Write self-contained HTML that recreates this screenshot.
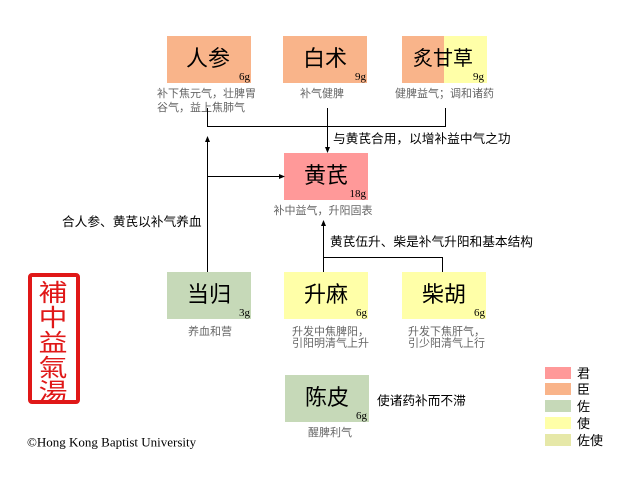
<!DOCTYPE html>
<html><head><meta charset="utf-8"><style>
html,body{margin:0;padding:0;background:#fff;}
svg{display:block;}
.cn{font-family:"Liberation Sans","Noto Sans CJK SC",sans-serif;}
.big{font-size:22px;fill:#000;}
.g{font-family:"Liberation Serif",serif;font-size:11px;fill:#000;}
.d{font-size:11px;fill:#666;}
.l{font-size:12.7px;fill:#000;}
</style></head><body>
<svg width="640" height="480" viewBox="0 0 640 480" xmlns="http://www.w3.org/2000/svg">
<!-- boxes -->
<rect x="167" y="36" width="84" height="47" fill="#F9B48A"/>
<rect x="283" y="36" width="84" height="47" fill="#F9B48A"/>
<rect x="402" y="36" width="42" height="47" fill="#F9B48A"/>
<rect x="444" y="36" width="43" height="47" fill="#FFFFA8"/>
<rect x="284" y="153" width="84" height="47" fill="#FF9999"/>
<rect x="167" y="272" width="84" height="47" fill="#C6D9B8"/>
<rect x="284" y="272" width="84" height="47" fill="#FFFFA8"/>
<rect x="402" y="272" width="84" height="47" fill="#FFFFA8"/>
<rect x="285" y="375" width="84" height="47" fill="#C6D9B8"/>

<g class="cn big" text-anchor="middle">
<text x="208" y="66">人参</text>
<text x="325" y="66">白术</text>
<text x="443" y="65" font-size="20">炙甘草</text>
<text x="326" y="183">黄芪</text>
<text x="209" y="302">当归</text>
<text x="326" y="302">升麻</text>
<text x="444" y="302">柴胡</text>
<text x="327" y="405">陈皮</text>
</g>
<g class="g" text-anchor="end">
<text x="250" y="80">6g</text>
<text x="366" y="80">9g</text>
<text x="484" y="80">9g</text>
<text x="366" y="197">18g</text>
<text x="250" y="316">3g</text>
<text x="367" y="316">6g</text>
<text x="485" y="316">6g</text>
<text x="367" y="419">6g</text>
</g>

<!-- descriptions -->
<g class="cn d">
<text x="157" y="97">补下焦元气，壮脾胃</text>
<text x="157" y="111">谷气，益上焦肺气</text>
<text x="322" y="97" text-anchor="middle">补气健脾</text>
<text x="395" y="97">健脾益气；调和诸药</text>
<text x="323" y="214" text-anchor="middle">补中益气，升阳固表</text>
<text x="210" y="335" text-anchor="middle">养血和营</text>
<text x="292" y="335">升发中焦脾阳，</text>
<text x="292" y="346.5">引阳明清气上升</text>
<text x="408" y="335">升发下焦肝气，</text>
<text x="408" y="346.5">引少阳清气上行</text>
<text x="330" y="436" text-anchor="middle">醒脾利气</text>
</g>

<!-- labels -->
<g class="cn l">
<text x="333" y="143">与黄芪合用，以增补益中气之功</text>
<text x="62" y="226">合人参、黄芪以补气养血</text>
<text x="330" y="246">黄芪伍升、柴是补气升阳和基本结构</text>
<text x="377" y="405">使诸药补而不滞</text>
</g>

<!-- connectors -->
<g stroke="#000" stroke-width="1" fill="none">
<polyline points="207.5,108 207.5,126.5 445.5,126.5 445.5,108"/>
<line x1="327.5" y1="108" x2="327.5" y2="148"/>
<line x1="207.5" y1="272" x2="207.5" y2="141"/>
<line x1="207.5" y1="176.5" x2="280" y2="176.5"/>
<line x1="323.5" y1="272" x2="323.5" y2="225"/>
<polyline points="323.5,257.5 442.5,257.5 442.5,272"/>
</g>
<g fill="#000">
<polygon points="325,147 330,147 327.5,153"/>
<polygon points="205,142 210,142 207.5,136"/>
<polygon points="279,174 279,179 285,176.5"/>
<polygon points="321,226 326,226 323.5,220"/>
</g>

<!-- seal -->
<rect x="30" y="275" width="48" height="127" fill="none" stroke="#E01818" stroke-width="4" rx="2"/>
<g font-family="'Noto Sans CJK TC','Noto Sans CJK SC',sans-serif" font-size="24" fill="#E01818" text-anchor="middle">
<text transform="translate(53,301) scale(1.2,1)">補</text>
<text transform="translate(53,326) scale(1.2,1)">中</text>
<text transform="translate(53,351) scale(1.2,1)">益</text>
<text transform="translate(53,376) scale(1.2,1)">氣</text>
<text transform="translate(53,400) scale(1.2,1)">湯</text>
</g>

<!-- copyright -->
<text x="27" y="446.5" font-family="'Liberation Serif',serif" font-size="13" fill="#000">©Hong Kong Baptist University</text>

<!-- legend -->
<rect x="545" y="367" width="26" height="12" fill="#FF9999"/>
<rect x="545" y="383" width="26" height="12" fill="#F9B48A"/>
<rect x="545" y="400" width="26" height="12" fill="#C6D9B8"/>
<rect x="545" y="417" width="26" height="12" fill="#FFFFA8"/>
<rect x="545" y="434" width="26" height="12" fill="#E6E8A8"/>
<g class="cn" font-size="13" fill="#000">
<text x="577" y="378">君</text>
<text x="577" y="394">臣</text>
<text x="577" y="411">佐</text>
<text x="577" y="428">使</text>
<text x="577" y="445">佐使</text>
</g>
</svg>
</body></html>
